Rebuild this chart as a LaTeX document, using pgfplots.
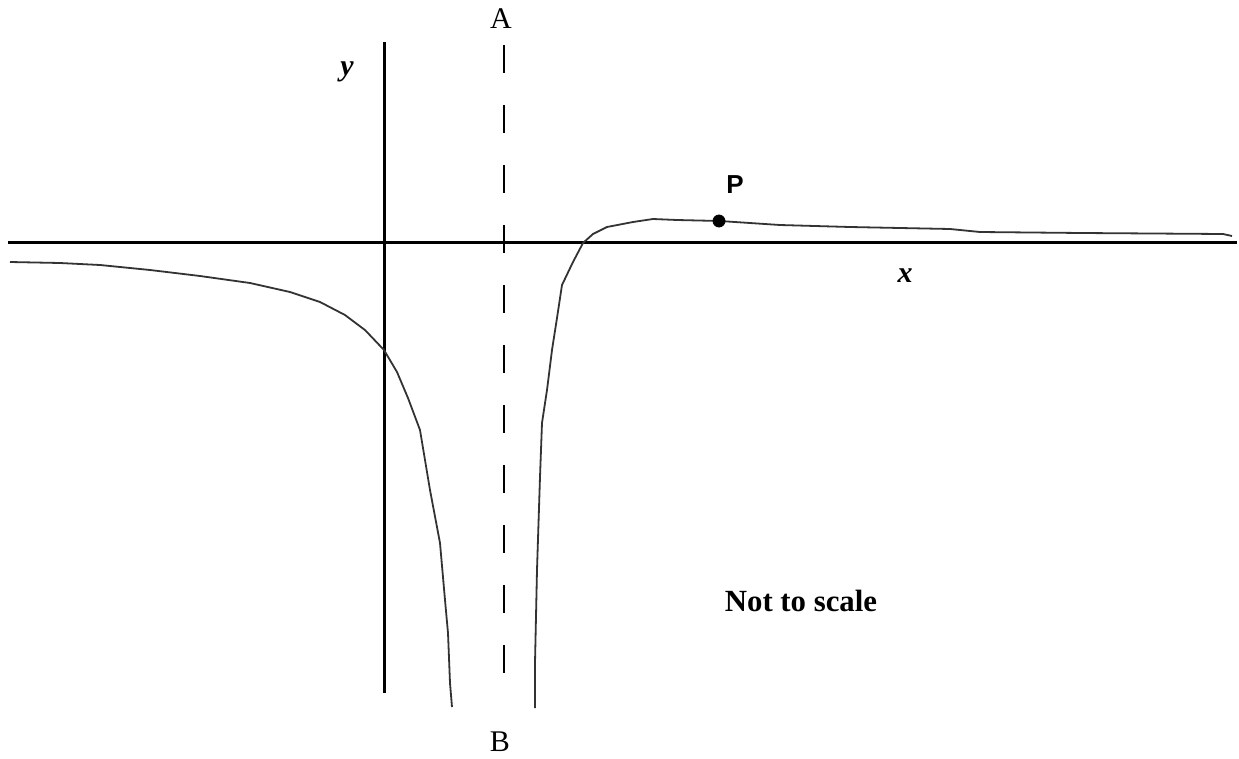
\documentclass[border=0pt]{standalone}
\usepackage{fontspec}
\setmainfont{Liberation Serif}
\newfontfamily\arial{Liberation Sans}
\usepackage{pgfplots}
\pgfplotsset{compat=1.18}

\begin{document}
\begin{tikzpicture}
% coordinates are pixels of the sketch, y measured downward
\begin{axis}[
    hide axis, scale only axis,
    x=0.5pt, y=0.5pt,
    xmin=0, xmax=1239, ymin=0, ymax=758,
    y dir=reverse, clip=false
    ]
\path (axis cs:0,0) rectangle (axis cs:1239,758);

% axes
\addplot[black, line width=1.5pt] coordinates {(8,242) (1237,242)};
\addplot[black, line width=1.5pt] coordinates {(384,42) (384,693)};

% asymptote AB
\addplot[black, line width=1pt, dash pattern=on 14pt off 16pt] coordinates {(504,45) (504,704)};

% left branch
\addplot[black!80, line width=0.9pt] coordinates {
    (10,262) (60,263) (100,265) (150,270) (200,276) (250,283)
    (290,292) (320,302) (345,315) (365,330) (384,350) (397,372)
    (408,398) (420,430) (430,490) (440,543) (445,600) (448,633)
    (450,683) (452,707)
};

% right branch
\addplot[black!80, line width=0.9pt] coordinates {
    (535,708) (535,663) (537,570) (540,477) (542,423) (547,390)
    (552,350) (557,318) (562,285) (573,262) (583,243) (593,234)
    (607,227) (633,222) (653,219) (677,220) (720,221) (780,225)
    (850,227) (950,229) (980,232) (1082,233) (1223,234) (1232,236)
};

% point P
\addplot[only marks, mark=*, mark size=3pt, black] coordinates {(719,221)};

\node[font=\arial\bfseries\fontsize{13}{15}\selectfont] at (axis cs:735,185) {P};
\node[font=\fontsize{15}{18}\selectfont] at (axis cs:501,19) {A};
\node[font=\fontsize{15}{18}\selectfont] at (axis cs:500,742) {B};
\node[font=\bfseries\itshape\fontsize{15}{18}\selectfont] at (axis cs:347,72) {y};
\node[font=\bfseries\itshape\fontsize{15}{18}\selectfont] at (axis cs:905,276) {x};
\node[font=\bfseries\fontsize{15.4}{18}\selectfont] at (axis cs:801,601) {Not to scale};
\end{axis}
\end{tikzpicture}
\end{document}
